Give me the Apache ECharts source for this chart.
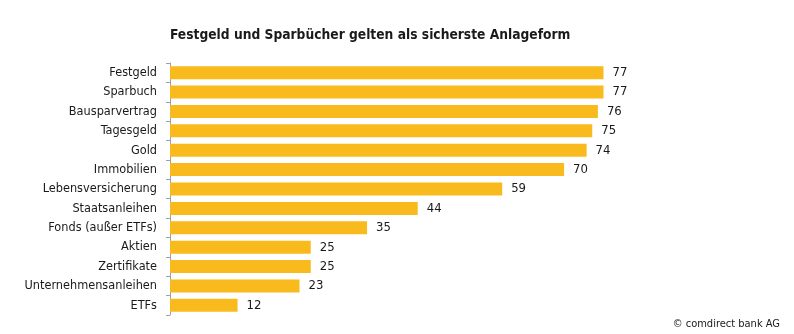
<!DOCTYPE html>
<html>
<head>
<meta charset="utf-8">
<script src="https://cdn.jsdelivr.net/npm/echarts@6/dist/echarts.min.js"></script>
<style>
  html, body { margin: 0; padding: 0; background: #fff; }
  #chart { width: 794px; height: 334px; }
</style>
</head>
<body>
<div id="chart"></div>
<script>
// Anlageformen, top to bottom as listed
const categories = [
  'Festgeld', 'Sparbuch', 'Bausparvertrag', 'Tagesgeld', 'Gold', 'Immobilien',
  'Lebensversicherung', 'Staatsanleihen', 'Fonds (außer ETFs)', 'Aktien',
  'Zertifikate', 'Unternehmensanleihen', 'ETFs'
];
// Share of respondents rating the form as safe (%)
const values = [77, 77, 76, 75, 74, 70, 59, 44, 35, 25, 25, 23, 12];

const titleText = 'Festgeld und Sparbücher gelten als sicherste Anlageform';
const sourceText = '© comdirect bank AG';

const FONT = '"Liberation Sans Narrow", "DejaVu Sans Condensed", sans-serif';

const chart = echarts.init(document.getElementById('chart'), null, { renderer: 'canvas' });

chart.setOption({
  animation: false,
  backgroundColor: '#ffffff',
  title: {
    text: titleText,
    left: 165,
    top: 23,
    textStyle: { fontFamily: FONT, fontSize: 13.7, fontWeight: 'bold', color: '#1a1a1a' }
  },
  graphic: [{
    type: 'text',
    right: 14,
    top: 319,
    style: { text: sourceText, font: '11px ' + FONT, fill: '#1a1a1a' }
  }],
  grid: { left: 170, right: 61, top: 63, bottom: 19, containLabel: false },
  xAxis: {
    type: 'value',
    min: 0,
    max: 100,
    show: false
  },
  yAxis: {
    type: 'category',
    data: categories,
    inverse: true,
    axisLine: { show: true, lineStyle: { color: '#a0a0a0', width: 1 } },
    axisTick: { show: true, length: 4, lineStyle: { color: '#a0a0a0' } },
    axisLabel: { margin: 13, fontFamily: FONT, fontSize: 12.6, color: '#1a1a1a' }
  },
  series: [{
    type: 'bar',
    data: values,
    barWidth: 13,
    itemStyle: { color: '#F8BA1C' },
    label: {
      show: true,
      position: 'right',
      distance: 9,
      fontFamily: FONT,
      fontSize: 13,
      color: '#1a1a1a'
    }
  }]
});
</script>
</body>
</html>
